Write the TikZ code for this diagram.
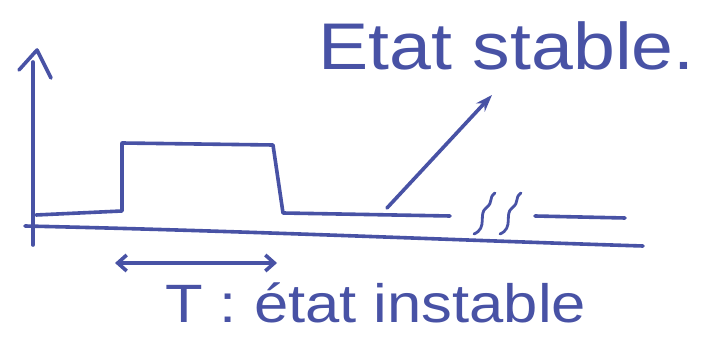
\documentclass[tikz,border=0pt]{standalone}
\usepackage{fontspec}
\setmainfont{Liberation Sans}
\usetikzlibrary{arrows.meta}
\definecolor{ink}{RGB}{72,82,165}
\begin{document}
\begin{tikzpicture}[x=1pt,y=-1pt,
  inkline/.style={draw=ink,line width=3.6pt,line cap=round,line join=round},
  label/.style={text=ink,inner sep=0pt,anchor=base west,xscale=1.14}]
\useasboundingbox (0,0) rectangle (701,347);
\fill[white] (0,0) rectangle (701,347);
% axes
\draw[inkline] (33,245) -- (33,62);
\draw[inkline] (19,70) -- (37,50) -- (51,78);
\draw[inkline] (25,226) .. controls (250,231) and (450,240) .. (643,246);
% signal
\draw[inkline] (36,215) -- (122,211) -- (122,143) -- (273,145) -- (283,213) -- (450,216);
\draw[inkline] (535,216) -- (625,218);
% break marks
\draw[inkline,line width=2.8pt] (474,234) .. controls (488,228) and (478,214) .. (486,208) .. controls (494,202) and (488,198) .. (495,193);
\draw[inkline,line width=2.8pt] (500,234) .. controls (514,228) and (504,214) .. (512,208) .. controls (520,202) and (514,198) .. (521,193);
% labels
\node[label,font=\fontsize{66}{74}\selectfont] (stable) at (318,70) {Etat stable.};
\node[label,font=\fontsize{54}{60}\selectfont] (instable) at (165,322) {T : état instable};
\coordinate (from) at (387,208);
\coordinate (to) at (492,95);
\draw[inkline,-{Stealth[length=17pt,width=12pt]}] (from) -- (to);
\coordinate (tl) at (115,263);
\coordinate (tr) at (277,263);
\draw[inkline,{Straight Barb[length=9pt,width=16pt]}-{Straight Barb[length=9pt,width=16pt]}] (tl) -- (tr);
\end{tikzpicture}
\end{document}
